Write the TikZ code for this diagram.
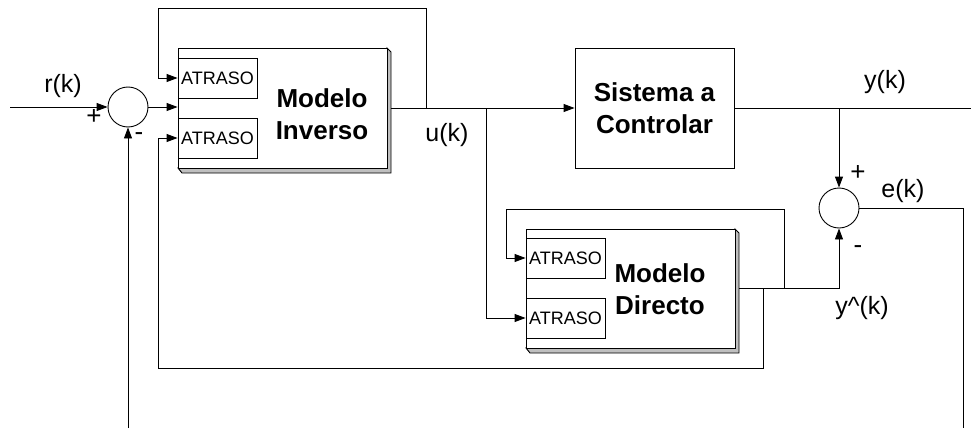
\documentclass[tikz,border=0pt]{standalone}
\usepackage{fontspec}
\setmainfont{Liberation Sans}
\usetikzlibrary{arrows.meta}
\begin{document}
\begin{tikzpicture}[x=1pt,y=-1pt,
  line width=0.9pt,
  arr/.style={-{Triangle[length=11pt,width=8pt]}},
  blk/.style={draw,rectangle,inner sep=0pt,fill=white},
  delaybox/.style={draw,rectangle,inner sep=0pt,minimum width=79pt,minimum height=40pt,font=\fontsize{18}{20}\selectfont},
  sumc/.style={draw,circle,minimum size=40pt,inner sep=0pt},
  lbl/.style={font=\fontsize{25}{28}\selectfont,inner sep=0pt},
  sgn/.style={font=\fontsize{26}{28}\selectfont,inner sep=0pt},
  bigtxt/.style={font=\bfseries\fontsize{26}{32}\selectfont,align=center,inner sep=0pt},
  shade/.style={draw,fill=black!25,line width=0.9pt}
]
\useasboundingbox (0,0) rectangle (971,428);

% shadows (bevel)
\draw[shade] (387,48) -- (391,52) -- (391,173) -- (182,173) -- (178,168) -- (387,168) -- cycle;
\draw[shade] (735,229) -- (739,233) -- (739,353) -- (530,353) -- (526,348) -- (735,348) -- cycle;

% blocks
\node[blk,minimum width=209pt,minimum height=120pt] (inv) at (282.5,108) {};
\node[blk,minimum width=209pt,minimum height=119pt] (dir) at (630.5,288.5) {};
\node[blk,minimum width=159pt,minimum height=120pt,bigtxt] (sist) at (654.5,108) {Sistema a\\Controlar};

\node[bigtxt] (invtxt) at (322,114) {Modelo\\Inverso};
\node[bigtxt] (dirtxt) at (660,289) {Modelo\\Directo};

\node[delaybox] (invA1) at (217.5,78) {ATRASO};
\node[delaybox] (invA2) at (217.5,138) {ATRASO};
\node[delaybox] (dirA1) at (565.5,258) {ATRASO};
\node[delaybox] (dirA2) at (565.5,318) {ATRASO};

% summing junctions
\node[sumc] (sum1) at (128,107) {};
\node[sumc] (sum2) at (839,208) {};

% coordinates
\coordinate (rin) at (10,107);
\coordinate (invout) at (391,108);
\coordinate (j1) at (426,108);
\coordinate (j2) at (486,108);
\coordinate (j3) at (839,108);
\coordinate (yout) at (971,108);
\coordinate (dirout) at (739,288);
\coordinate (j4) at (784,288);
\coordinate (j5) at (763,288);
\coordinate (eout) at (963,428);
\coordinate (fbin) at (128,428);

% connectors
\draw[arr] (rin) -- (sum1.west);
\draw[arr] (sum1.east) -- (sum1.east -| inv.west);
\draw[arr] (invout) -- (sist.west);
\draw[arr] (j1) -- (426,8) -- (158,8) |- (invA1.west);
\draw[arr] (j2) |- (dirA2.west);
\draw (sist.east) -- (yout);
\draw[arr] (j3) -- (sum2.north);
\draw (sum2.east) -| (eout);
\draw[arr] (dirout) -| (sum2.south);
\draw[arr] (j4) -- (784,209) -- (506,209) |- (dirA1.west);
\draw[arr] (j5) -- (763,368) -- (158,368) |- (invA2.west);
\draw[arr] (fbin) -- (sum1.south);

% labels
\node[lbl] (lr) at (63,86) {r(k)};
\node[sgn] (lp1) at (94,117) {+};
\node[sgn] (lm1) at (139,137) {-};
\node[lbl] (lu) at (447,135) {u(k)};
\node[lbl] (ly) at (885,82) {y(k)};
\node[sgn] (lp2) at (858,173) {+};
\node[lbl] (le) at (903,191) {e(k)};
\node[sgn] (lm2) at (858,250) {-};
\node[lbl] (lyh) at (862,308) {y\textasciicircum(k)};
\end{tikzpicture}
\end{document}
